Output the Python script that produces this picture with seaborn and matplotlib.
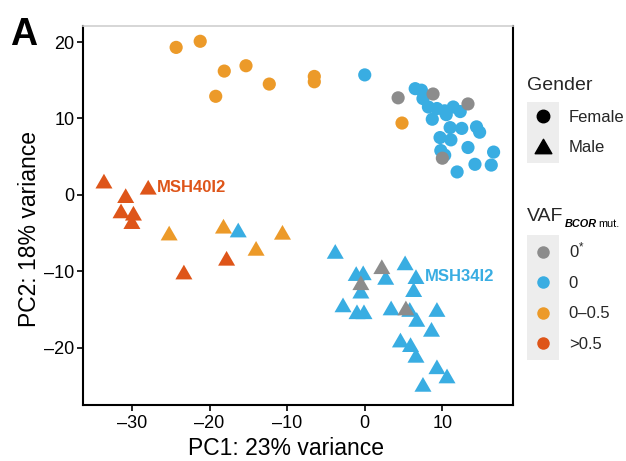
import matplotlib
matplotlib.use("Agg")
import matplotlib.pyplot as plt
import seaborn as sns
import pandas as pd
from matplotlib.path import Path
from matplotlib.lines import Line2D
from matplotlib.patches import Rectangle

sns.set_theme(style="white")
plt.rcParams["font.family"] = ["Liberation Sans", "DejaVu Sans"]
plt.rcParams["mathtext.fontset"] = "custom"
plt.rcParams["mathtext.rm"] = "Liberation Sans"
plt.rcParams["mathtext.it"] = "Liberation Sans:italic"
plt.rcParams["mathtext.bf"] = "Liberation Sans:bold"

# ---- PCA coordinates per sample (draw order: 0-0.5, >0.5, 0, 0*) ----
pc1 = [
    # 0-0.5, female
    -24.3, -21.2, -18.1, -15.3, -19.2, -12.3, -6.5, -6.5, 4.8,
    # 0-0.5, male
    -25.2, -18.2, -10.6, -14.0,
    # >0.5, male
    -33.6, -27.9, -30.8, -31.4, -29.8, -30.0, -23.3, -17.8,
    # 0, female
    0.0, 6.5, 7.3, 7.5, 8.2, 9.3, 10.3, 11.4, 12.3, 10.5, 8.7, 11.0, 12.5,
    14.4, 14.8, 9.7, 11.1, 13.3, 9.8, 10.3, 16.6, 11.9, 14.2, 16.3,
    # 0, male
    -16.3, -3.8, 5.2, -1.1, -0.2, 2.7, 6.6, -0.5, 6.3, -2.8, -1.0, -0.1,
    3.4, 5.8, 6.7, 9.3, 8.6, 4.6, 5.9, 6.6, 9.3, 10.6, 7.5,
    # 0*, female
    4.3, 8.8, 13.3, 10.0,
    # 0*, male
    2.2, -0.5, 5.3,
]
pc2 = [
    19.3, 20.1, 16.2, 16.9, 12.9, 14.5, 15.5, 14.8, 9.4,
    -5.0, -4.1, -4.9, -7.0,
    1.8, 1.0, -0.1, -2.1, -2.4, -3.5, -10.1, -8.3,
    15.7, 13.9, 13.7, 12.6, 11.5, 11.3, 11.0, 11.5, 10.9, 10.5, 9.9, 8.8, 8.7,
    8.9, 8.2, 7.5, 7.2, 6.2, 5.8, 5.2, 5.6, 3.0, 4.0, 3.9,
    -4.6, -7.4, -8.9, -10.3, -10.2, -10.8, -10.7, -12.6, -12.4, -14.4, -15.3, -15.3,
    -14.8, -15.0, -16.3, -15.0, -17.6, -19.0, -19.6, -21.0, -22.5, -23.7, -24.8,
    12.7, 13.2, 11.9, 4.8,
    -9.4, -11.5, -14.8,
]
gender = (["Female"] * 9 + ["Male"] * 4 + ["Male"] * 8 + ["Female"] * 24
          + ["Male"] * 23 + ["Female"] * 4 + ["Male"] * 3)
vaf = (["0–0.5"] * 13 + [">0.5"] * 8 + ["0"] * 47 + ["0*"] * 7)

vaf_levels = ["0*", "0", "0–0.5", ">0.5"]
vaf_labels = ["0$^{*}$", "0", "0–0.5", ">0.5"]
vaf_colors = ["#8C8C8C", "#39ADE2", "#EC9A29", "#DE5519"]
gender_levels = ["Female", "Male"]

# sample labels: (name, pc1, pc2, colour)
callouts = [("MSH40I2", -27.9, 1.0, "#DE5519"),
            ("MSH34I2", 6.6, -10.7, "#39ADE2")]

df = pd.DataFrame({"PC1": pc1, "PC2": pc2, "Gender": gender, "VAF": vaf})

# equilateral triangle marker
tri = Path([(-1, -0.866), (1, -0.866), (0, 0.866), (-1, -0.866)],
           [Path.MOVETO, Path.LINETO, Path.LINETO, Path.CLOSEPOLY])

fig = plt.figure(figsize=(6.26, 4.61), dpi=100)
ax = fig.add_axes([83 / 626, 1 - 405 / 461, 430 / 626, 379 / 461])

sns.scatterplot(data=df, x="PC1", y="PC2", hue="VAF", hue_order=vaf_levels,
                palette=dict(zip(vaf_levels, vaf_colors)),
                style="Gender", style_order=gender_levels,
                markers={"Female": "o", "Male": tri},
                size="Gender", sizes={"Female": 90, "Male": 150},
                linewidth=0, legend=False, ax=ax)

for name, x, y, col in callouts:
    ax.annotate(name, xy=(x, y), xytext=(6.5, 0), textcoords="offset points",
                ha="left", va="center", fontsize=12, fontweight="bold", color=col)

ax.set_xlim(-36.3, 19.1)
ax.set_ylim(-27.5, 22.1)
ax.set_xticks([-30, -20, -10, 0, 10])
ax.set_yticks([-20, -10, 0, 10, 20])
ax.set_xticklabels(["–30", "–20", "–10", "0", "10"])
ax.set_yticklabels(["–20", "–10", "0", "10", "20"])
ax.tick_params(axis="both", direction="out", length=4, width=1.2, colors="black",
               labelsize=13, left=True, bottom=True)
ax.tick_params(axis="x", pad=3)
ax.tick_params(axis="y", pad=2)
for side in ["left", "right", "bottom"]:
    ax.spines[side].set_color("black")
    ax.spines[side].set_linewidth(1.5)
ax.spines["top"].set_color("#CFCFCF")
ax.spines["top"].set_linewidth(1.2)
ax.set_xlabel("")
ax.set_ylabel("")

fig.text(286 / 626, 1 - 455 / 461, "PC1: 23% variance", ha="center", va="baseline",
         fontsize=16.5, color="black")
fig.text(30 / 626, 1 - 229 / 461, "PC2: 18% variance", ha="center", va="center",
         rotation=90, fontsize=16.5, color="black")
fig.text(10 / 626, 1 - 45 / 461, "A", ha="left", va="baseline", fontsize=27,
         fontweight="bold", color="black")

# legends
fs = 12
hl, htp = 1.9, 0.6
g_handles = [Line2D([], [], ls="", marker="o", color="black", markersize=9),
             Line2D([], [], ls="", marker=tri, color="black", markersize=12)]
v_handles = [Line2D([], [], ls="", marker="o", color=c, markersize=9, markeredgewidth=0)
             for c in vaf_colors]
common = dict(loc="upper left", frameon=False, fontsize=fs, title_fontsize=14,
              handlelength=hl, handletextpad=htp, labelspacing=0.93,
              borderpad=0, borderaxespad=0, alignment="left")
leg_g = fig.legend(handles=g_handles, labels=gender_levels, title="Gender",
                   bbox_to_anchor=(527 / 626, 1 - 77 / 461), **common)
leg_v = fig.legend(handles=v_handles, labels=vaf_labels, title="VAF",
                   bbox_to_anchor=(527 / 626, 1 - 208 / 461), **common)

fig.canvas.draw()
W, H = fig.canvas.get_width_height()
renderer = fig.canvas.get_renderer()

# subscript of the VAF legend title: BCOR mut.
t_ext = leg_v.get_title().get_window_extent(renderer)
base = t_ext.y0 + 0.212 * 14 * fig.dpi / 72
sub_base = base - 6
sub1 = fig.text((t_ext.x1 + 1) / W, sub_base / H, "BCOR", ha="left", va="baseline",
                fontsize=7.8, fontstyle="italic", fontweight="bold", color="black")
fig.canvas.draw()
s1 = sub1.get_window_extent(renderer)
fig.text((s1.x1 + 2) / W, sub_base / H, "mut.", ha="left", va="baseline",
         fontsize=7.8, color="black")

# grey key backgrounds behind the legend swatches
px_per_fs = fs * fig.dpi / 72
for leg in (leg_g, leg_v):
    ext = [t.get_window_extent(renderer) for t in leg.get_texts()]
    centers = [(e.y0 + e.y1) / 2 for e in ext]
    step = (centers[0] - centers[-1]) / (len(centers) - 1)
    x0 = ext[0].x0 - (hl + htp) * px_per_fs
    w = hl * px_per_fs
    y_top = centers[0] + step / 2
    y_bot = centers[-1] - step / 2
    fig.patches.append(Rectangle((x0 / W, y_bot / H), w / W, (y_top - y_bot) / H,
                                 transform=fig.transFigure, facecolor="#EDEDED",
                                 edgecolor="none", zorder=0))

fig.savefig("out.png", dpi=100)
